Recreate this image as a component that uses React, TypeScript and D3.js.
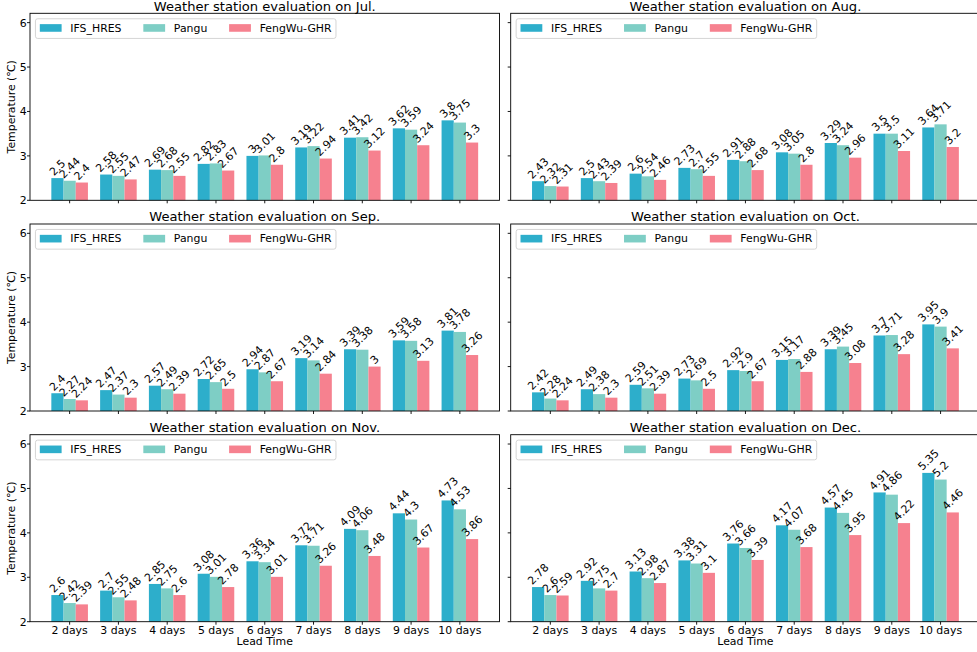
import React from 'react';
import * as d3 from 'd3';

// Forecast lead times (x categories)
const leadTimes = ['2 days', '3 days', '4 days', '5 days', '6 days', '7 days', '8 days', '9 days', '10 days'];
const seriesNames = ['IFS_HRES', 'Pangu', 'FengWu-GHR'];
const seriesColors = ['#2DAECB', '#7ECEC5', '#F6818F'];
const yTicks = [2, 3, 4, 5, 6];

// Temperature RMSE (°C) per month and model
const julIfs = [2.5, 2.58, 2.69, 2.82, 3, 3.19, 3.41, 3.62, 3.8];
const julPangu = [2.44, 2.55, 2.68, 2.83, 3.01, 3.22, 3.42, 3.59, 3.75];
const julFengwu = [2.4, 2.47, 2.55, 2.67, 2.8, 2.94, 3.12, 3.24, 3.3];

const augIfs = [2.43, 2.5, 2.6, 2.73, 2.91, 3.08, 3.29, 3.5, 3.64];
const augPangu = [2.32, 2.43, 2.54, 2.7, 2.88, 3.05, 3.24, 3.5, 3.71];
const augFengwu = [2.31, 2.39, 2.46, 2.55, 2.68, 2.8, 2.96, 3.11, 3.2];

const sepIfs = [2.4, 2.47, 2.57, 2.72, 2.94, 3.19, 3.39, 3.59, 3.81];
const sepPangu = [2.27, 2.37, 2.49, 2.65, 2.87, 3.14, 3.38, 3.58, 3.78];
const sepFengwu = [2.24, 2.3, 2.39, 2.5, 2.67, 2.84, 3, 3.13, 3.26];

const octIfs = [2.42, 2.49, 2.59, 2.73, 2.92, 3.15, 3.39, 3.7, 3.95];
const octPangu = [2.28, 2.38, 2.51, 2.69, 2.9, 3.17, 3.45, 3.71, 3.9];
const octFengwu = [2.24, 2.3, 2.39, 2.5, 2.67, 2.88, 3.08, 3.28, 3.41];

const novIfs = [2.6, 2.7, 2.85, 3.08, 3.36, 3.72, 4.09, 4.44, 4.73];
const novPangu = [2.42, 2.55, 2.75, 3.01, 3.34, 3.71, 4.06, 4.3, 4.53];
const novFengwu = [2.39, 2.48, 2.6, 2.78, 3.01, 3.26, 3.48, 3.67, 3.86];

const decIfs = [2.78, 2.92, 3.13, 3.38, 3.76, 4.17, 4.57, 4.91, 5.35];
const decPangu = [2.6, 2.75, 2.98, 3.31, 3.66, 4.07, 4.45, 4.86, 5.2];
const decFengwu = [2.59, 2.7, 2.87, 3.1, 3.39, 3.68, 3.95, 4.22, 4.46];

const panels = [
  { month: 'Jul.', series: [julIfs, julPangu, julFengwu] },
  { month: 'Aug.', series: [augIfs, augPangu, augFengwu] },
  { month: 'Sep.', series: [sepIfs, sepPangu, sepFengwu] },
  { month: 'Oct.', series: [octIfs, octPangu, octFengwu] },
  { month: 'Nov.', series: [novIfs, novPangu, novFengwu] },
  { month: 'Dec.', series: [decIfs, decPangu, decFengwu] },
];

const W = 977;
const H = 652;
const FONT = '"DejaVu Sans", "Liberation Sans", sans-serif';
const FS = 10.9;
const TITLE_FS = 13.1;
const colX = [[30, 499.5], [510.7, 980.2]];
const rowTop = [13.3, 224, 434.7];
const axH = 187;
const BAR_W = 0.25;

let measureCtx: CanvasRenderingContext2D | null = null;
function textWidth(s: string, fs: number): number {
  if (!measureCtx && typeof document !== 'undefined') {
    measureCtx = document.createElement('canvas').getContext('2d');
  }
  if (!measureCtx) return s.length * fs * 0.6;
  measureCtx.font = `${fs}px ${FONT}`;
  return measureCtx.measureText(s).width;
}

function Panel({ idx }: { idx: number }) {
  const p = panels[idx];
  const col = idx % 2;
  const row = Math.floor(idx / 2);
  const [x0, x1] = colX[col];
  const top = rowTop[row];
  const bottom = top + axH;
  const x = d3.scaleLinear().domain([-0.8125, leadTimes.length - 1 + 0.8125]).range([x0, x1]);
  const y = d3.scaleLinear().domain([2, 6.21]).range([bottom, top]);
  const bw = x(BAR_W) - x(0);

  // legend layout
  const lgX = x0 + 5.45;
  const lgY = top + 5.45;
  const pad = 0.4 * FS;
  const handleLen = 2 * FS;
  const handleH = 0.7 * FS;
  const textPad = 0.8 * FS;
  const colSp = 2 * FS;
  const items: { hx: number; tx: number }[] = [];
  let cx = lgX + pad;
  seriesNames.forEach((n) => {
    items.push({ hx: cx, tx: cx + handleLen + textPad });
    cx += handleLen + textPad + textWidth(n, FS) + colSp;
  });
  const lgW = cx - colSp + pad - lgX;
  const lgH = 19.7;

  return (
    <g>
      {/* bars */}
      {p.series.map((vals, k) =>
        vals.map((v, i) => (
          <rect
            key={`b${k}-${i}`}
            x={x(i + (k - 1) * BAR_W) - bw / 2}
            y={y(v)}
            width={bw}
            height={y(2) - y(v)}
            fill={seriesColors[k]}
          />
        ))
      )}
      {/* value labels, rotated 45° and sitting on the bar tops */}
      {p.series.map((vals, k) =>
        vals.map((v, i) => {
          const s = String(v);
          const w = textWidth(s, FS);
          const h = 1.164 * FS;
          const bh = (w + h) * Math.SQRT1_2;
          const lx = x(i + (k - 1) * BAR_W);
          const ly = y(v) - bh / 2;
          return (
            <text
              key={`t${k}-${i}`}
              transform={`translate(${lx},${ly}) rotate(-45)`}
              y={0.346 * FS}
              textAnchor="middle"
              fontSize={FS}
              fill="#000"
            >
              {s}
            </text>
          );
        })
      )}
      {/* y ticks */}
      {yTicks.map((t) => (
        <g key={`yt${t}`}>
          <line x1={x0 - 3} x2={x0} y1={y(t)} y2={y(t)} stroke="#000" strokeWidth={0.9} />
          {col === 0 && (
            <text x={x0 - 3.2} y={y(t)} dy="0.36em" textAnchor="end" fontSize={FS}>
              {t}
            </text>
          )}
        </g>
      ))}
      {/* x ticks */}
      {leadTimes.map((lt, i) => (
        <g key={`xt${i}`}>
          <line x1={x(i)} x2={x(i)} y1={bottom} y2={bottom + 3} stroke="#000" strokeWidth={0.9} />
          {row === 2 && (
            <text x={x(i)} y={633.5} textAnchor="middle" fontSize={FS}>
              {lt}
            </text>
          )}
        </g>
      ))}
      {/* frame */}
      <rect x={x0} y={top} width={x1 - x0} height={axH} fill="none" stroke="#000" strokeWidth={0.9} />
      {/* title */}
      <text x={(x0 + x1) / 2} y={top - 2.8} textAnchor="middle" fontSize={TITLE_FS}>
        {`Weather station evaluation on ${p.month}`}
      </text>
      {col === 0 && (
        <text
          transform={`translate(15.4,${(top + bottom) / 2}) rotate(-90)`}
          textAnchor="middle"
          fontSize={FS}
        >
          Temperature (℃)
        </text>
      )}
      {row === 2 && (
        <text x={(x0 + x1) / 2} y={645.4} textAnchor="middle" fontSize={FS}>
          Lead Time
        </text>
      )}
      {/* legend */}
      <rect
        x={lgX}
        y={lgY}
        width={lgW}
        height={lgH}
        rx={2.2}
        fill="#fff"
        fillOpacity={0.8}
        stroke="#d0d0d0"
        strokeWidth={0.9}
      />
      {seriesNames.map((n, k) => (
        <g key={`lg${k}`}>
          <rect x={items[k].hx} y={lgY + 9.2 - handleH / 2} width={handleLen} height={handleH} fill={seriesColors[k]} />
          <text x={items[k].tx} y={lgY + 12.9} fontSize={FS}>
            {n}
          </text>
        </g>
      ))}
    </g>
  );
}

export default function App() {
  return (
    <svg
      width={W}
      height={H}
      viewBox={`0 0 ${W} ${H}`}
      style={{ position: 'absolute', left: 0, top: 0, display: 'block', background: '#fff' }}
      fontFamily={FONT}
    >
      <rect x={0} y={0} width={W} height={H} fill="#fff" />
      {panels.map((_, i) => (
        <Panel key={i} idx={i} />
      ))}
    </svg>
  );
}
